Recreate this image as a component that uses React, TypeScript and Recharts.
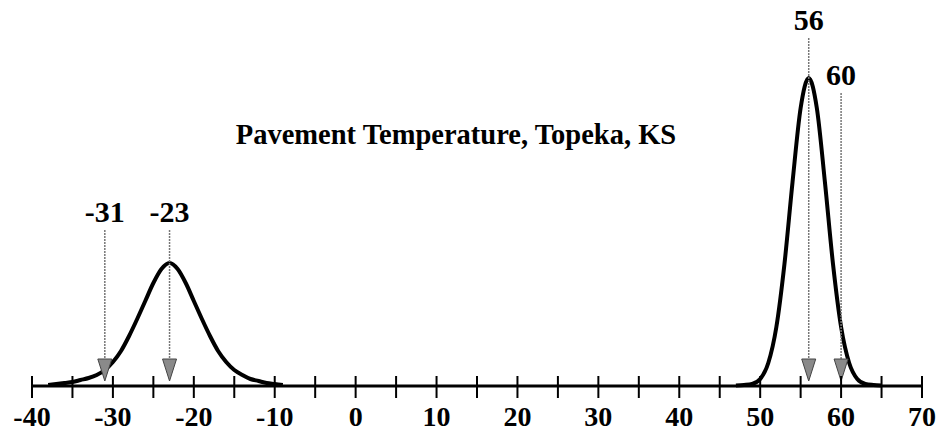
import { LineChart, Line, XAxis, YAxis, ReferenceLine } from "recharts";

// pavement temperature distributions (heights)
const lowTemps = [-38, -37, -36, -35, -34, -33, -32, -31, -30, -29, -28, -27, -26, -25, -24, -23, -22, -21, -20, -19, -18, -17, -16, -15, -14, -13, -12, -11, -10, -9];
const lowFreq = [1, 2, 3, 4, 6, 8, 11, 16, 24, 35, 50, 67, 85, 103, 117, 123, 117, 103, 85, 67, 50, 35, 24, 16, 11, 7, 5, 3, 2, 1];

const highTemps = [47, 48, 49, 50, 51, 52, 53, 54, 55, 56, 57, 58, 59, 60, 61, 62, 63, 64, 65];
const highFreq = [0.5, 1, 2, 7, 23, 59, 122, 204, 278, 308, 278, 204, 122, 59, 23, 7, 2, 1, 0.5];

const tickValues = [-40, -35, -30, -25, -20, -15, -10, -5, 0, 5, 10, 15, 20, 25, 30, 35, 40, 45, 50, 55, 60, 65, 70];

const markerTemps = [-31, -23, 56, 60];
const markerTops = [156, 156, 348, 293];
const markerTip = 5;

const lowData = lowTemps.map((t, i) => ({ t, f: lowFreq[i] }));
const highData = highTemps.map((t, i) => ({ t, f: highFreq[i] }));

const FONT = "'Liberation Serif', 'Times New Roman', serif";

const AxisTick = (props: any) => {
  const { x, y, payload } = props;
  const v = payload.value;
  return (
    <g>
      <line x1={x} y1={y - 10} x2={x} y2={y + 12} stroke="#000" strokeWidth={2} />
      {v % 10 === 0 && (
        <text x={x} y={y + 40} textAnchor="middle" fontFamily={FONT} fontWeight="bold" fontSize={28} fill="#000">
          {v}
        </text>
      )}
    </g>
  );
};

const arrowShape = (label: string) => (props: any) => {
  const { x1, y1, x2, y2 } = props;
  const head = 22;
  return (
    <g>
      <text x={x1} y={y1 - 8} textAnchor="middle" fontFamily={FONT} fontWeight="bold" fontSize={30} fill="#000">
        {label}
      </text>
      <line x1={x1} y1={y1} x2={x2} y2={y2 - head} stroke="#777" strokeWidth={1.5} strokeDasharray="2 1" />
      <polygon
        points={`${x2 - 7},${y2 - head} ${x2 + 7},${y2 - head} ${x2},${y2}`}
        fill="#8a8a8a"
        stroke="#444"
        strokeWidth={1}
      />
    </g>
  );
};

export default function App() {
  return (
    <div style={{ position: "absolute", left: 0, top: 0, width: 940, height: 436, background: "#fff" }}>
      <LineChart width={940} height={436} margin={{ top: 36, right: 18, bottom: 0, left: 32 }}>
        <XAxis
          type="number"
          dataKey="t"
          domain={[-40, 70]}
          ticks={tickValues}
          interval={0}
          height={50}
          tickSize={0}
          tickMargin={0}
          tickLine={false}
          tick={<AxisTick />}
          axisLine={{ stroke: "#000", strokeWidth: 3 }}
          allowDataOverflow
        />
        <YAxis hide domain={[0, 350]} type="number" />
        <Line data={lowData} dataKey="f" type="monotone" stroke="#000" strokeWidth={4} dot={false} isAnimationActive={false} />
        <Line data={highData} dataKey="f" type="monotone" stroke="#000" strokeWidth={4} dot={false} isAnimationActive={false} />
        {markerTemps.map((t, i) => (
          <ReferenceLine
            key={t}
            segment={[{ x: t, y: markerTops[i] }, { x: t, y: markerTip }]}
            shape={arrowShape(String(t))}
          />
        ))}
      </LineChart>
      <div
        style={{
          position: "absolute",
          left: 156,
          top: 119,
          width: 600,
          textAlign: "center",
          fontFamily: FONT,
          fontWeight: "bold",
          fontSize: 28.5,
          lineHeight: "32px",
          color: "#000",
        }}
      >
        Pavement Temperature, Topeka, KS
      </div>
    </div>
  );
}
